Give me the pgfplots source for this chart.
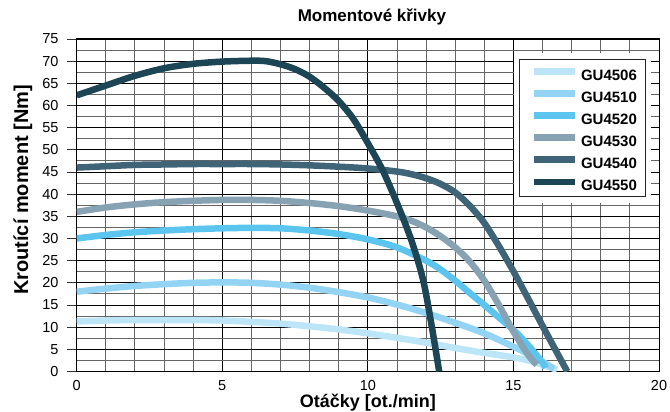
\documentclass[border=0pt]{standalone}
\usepackage{fontspec}
\setmainfont{Liberation Sans}
\usepackage{pgfplots}
\pgfplotsset{compat=1.18}
\definecolor{c06}{HTML}{BDE5F8}
\definecolor{c10}{HTML}{93D3F3}
\definecolor{c20}{HTML}{5BC5EF}
\definecolor{c30}{HTML}{87A2B2}
\definecolor{c40}{HTML}{3F6478}
\definecolor{c50}{HTML}{1C4555}
\begin{document}
\begin{tikzpicture}
\path[use as bounding box] (-76.7bp,-40.5bp) rectangle (593.3bp,371.5bp);
\begin{axis}[
  at={(0,0)}, anchor=south west, scale only axis,
  width=582.3bp, height=332.5bp,
  xmin=0, xmax=20, ymin=0, ymax=75,
  xtick={0,5,...,20}, ytick={0,5,...,75},
  minor x tick num=4, minor y tick num=1,
  grid=both,
  major grid style={black, line width=0.9bp},
  minor grid style={black!60, line width=0.9bp},
  tick align=outside, major tick length=10bp, minor tick length=0pt,
  xtick pos=left, ytick pos=left,
  xtick style={draw=none},
  ytick style={black!80, line width=0.9bp},
  axis line style={black, line width=1bp},
  ticklabel style={font=\fontsize{14.5bp}{16bp}\selectfont},
  /pgf/number format/assume math mode=true,
  xticklabel style={anchor=north, inner sep=0pt, yshift=1bp},
  yticklabel style={anchor=east, inner sep=0pt, xshift=-8bp},
  title={Momentové křivky},
  title style={font=\bfseries\fontsize{17bp}{19bp}\selectfont, at={(0.507,1.0361)}, anchor=base},
  xlabel={Otáčky [ot./min]},
  xlabel style={font=\bfseries\fontsize{18bp}{20bp}\selectfont, at={(0.5,-0.1083)}, anchor=base, inner sep=0pt},
  ylabel={Kroutící moment [Nm]},
  ylabel style={font=\bfseries\fontsize{20bp}{22bp}\selectfont, at={(-0.0836,0.546)}, anchor=base},
  legend style={at={(0.760,0.940)}, anchor=north west, draw=black!85, line width=0.8bp,
    fill=white, preaction={draw=white, line width=12bp},
    font=\bfseries\fontsize{15bp}{17bp}\selectfont,
    inner xsep=8.4bp, inner ysep=6bp, row sep=7.2bp,
    nodes={inner sep=0pt, text height=10.6bp, text depth=0bp, font=\bfseries\fontsize{15bp}{17bp}\selectfont},
    /tikz/every even column/.append style={column sep=11bp}},
  legend cell align=left,
  legend image code/.code={\draw[#1] (0bp,3.6bp) -- (41bp,3.6bp);},
  every axis plot/.append style={line width=6.5bp, smooth, tension=0.5},
]
\addplot[c06] coordinates {(0,11.3)(1,11.5)(2,11.6)(3,11.6)(4,11.6)(5,11.5)(6,11.2)(7,10.8)(8,10.2)(9,9.5)(10,8.6)(11,7.6)(12,6.5)(13,5.3)(14,4.2)(15,3.2)(15.5,2.5)(16,1.5)(16.5,0.4)};
\addplot[c10] coordinates {(0,18)(1,18.7)(2,19.3)(3,19.7)(4,20)(5,20.1)(6,20)(7,19.6)(8,18.9)(9,17.9)(10,16.7)(11,15.1)(12,13.2)(13,11)(14,8.6)(15,5.6)(15.5,4)(16,2.2)(16.4,0.6)};
\addplot[c20] coordinates {(0,30)(1,30.8)(2,31.4)(3,31.8)(4,32.1)(5,32.3)(6,32.4)(7,32.3)(8,31.8)(9,31)(10,29.8)(11,28)(12,25)(12.5,23)(13,20.5)(13.5,17.7)(14,15)(14.5,12.2)(15,9.4)(15.5,6)(16,2)(16.1,0.8)};
\addplot[c30] coordinates {(0,36)(1,37)(2,37.7)(3,38.2)(4,38.5)(5,38.7)(6,38.7)(7,38.5)(8,38)(9,37.3)(10,36.3)(11,35)(11.5,34)(12,32.5)(12.5,30.5)(13,28)(13.5,24.8)(14,20.5)(14.5,15)(15,9)(15.5,3.8)(15.8,1.5)};
\addplot[c40] coordinates {(0,46)(1,46.3)(2,46.6)(3,46.7)(4,46.8)(5,46.8)(6,46.8)(7,46.7)(8,46.5)(9,46.2)(10,45.8)(11,45.1)(11.5,44.5)(12,43.6)(12.5,42.3)(13,40.4)(13.5,37.4)(14,33.5)(14.5,28.3)(15,22.6)(15.5,16.5)(16,10.3)(16.5,4.2)(16.85,0)};
\addplot[c50] coordinates {(0,62.3)(1,64.5)(2,66.7)(3,68.4)(4,69.4)(5,69.9)(6,70.1)(6.5,70)(7,69.3)(7.5,68.2)(8,66.5)(8.5,64)(9,61)(9.5,57)(10,51.5)(10.5,45.5)(11,38)(11.5,29.5)(11.9,20.6)(12.2,10)(12.45,0)};
\legend{GU4506,GU4510,GU4520,GU4530,GU4540,GU4550}
\end{axis}
\end{tikzpicture}
\end{document}
